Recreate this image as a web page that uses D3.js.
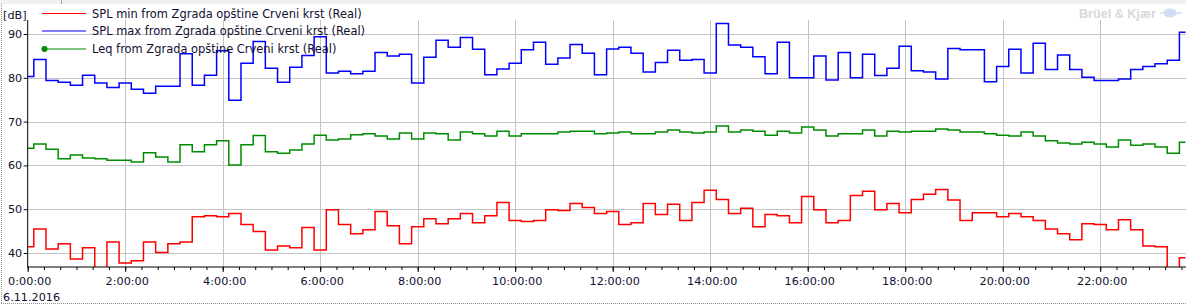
<!DOCTYPE html>
<html>
<head>
<meta charset="utf-8">
<script src="https://cdn.jsdelivr.net/npm/d3@7"></script>
<style>
  html, body { margin: 0; padding: 0; background: #ffffff; }
  svg { display: block; }
</style>
</head>
<body>
<div id="chart"></div>
<script>
// 15-minute values, 6.11.2016 from 0:00 to 23:45
const splMin = [
  41.4, 45.5, 40.9, 42.1, 38.6, 41.2, 35.5, 42.5, 37.7, 38.2,
  42.5, 40.1, 42.1, 42.5, 48.3, 48.5, 48.3, 49.0, 46.5, 44.9,
  40.7, 41.6, 41.2, 45.8, 40.7, 49.9, 46.5, 44.4, 45.3, 49.5,
  46.2, 42.1, 46.0, 47.8, 46.7, 47.8, 49.0, 46.9, 48.5, 51.5,
  47.4, 47.2, 47.4, 49.9, 49.7, 51.3, 50.4, 49.0, 49.5, 46.5,
  46.9, 51.3, 48.8, 51.1, 47.4, 51.5, 54.3, 52.2, 49.0, 50.2,
  46.0, 48.8, 48.5, 46.9, 52.9, 49.9, 46.9, 47.4, 53.1, 54.1,
  49.9, 51.3, 49.2, 52.2, 53.4, 54.5, 52.1, 47.4, 49.2, 49.2,
  48.3, 49.0, 48.3, 47.4, 45.5, 44.4, 43.0, 46.7, 46.5, 45.3,
  47.6, 45.3, 41.6, 41.4, 35.5, 38.9
];
const splMax = [
  80.3, 84.2, 79.4, 79.0, 78.3, 80.6, 78.8, 77.8, 78.8, 77.4,
  76.5, 78.1, 78.1, 85.5, 78.3, 80.6, 86.2, 74.9, 83.3, 88.3,
  82.2, 79.0, 82.4, 85.1, 89.4, 81.1, 81.5, 80.9, 81.5, 85.8,
  85.0, 85.4, 78.8, 84.7, 88.6, 87.0, 89.2, 86.5, 80.7, 82.0,
  83.3, 86.4, 88.1, 83.1, 84.5, 87.6, 85.6, 80.7, 86.6, 87.0,
  85.6, 81.3, 83.5, 86.3, 84.0, 84.2, 81.1, 92.4, 87.5, 87.0,
  84.8, 80.9, 88.1, 80.0, 80.0, 85.0, 79.5, 85.8, 80.0, 85.4,
  80.5, 82.2, 87.2, 81.6, 81.3, 79.7, 86.7, 86.4, 86.4, 79.1,
  82.6, 86.5, 81.1, 87.9, 81.9, 85.2, 81.9, 80.1, 79.4, 79.4,
  79.7, 81.9, 82.6, 83.2, 84.0, 90.4
];
const leq = [
  63.9, 64.9, 63.7, 61.5, 62.4, 61.7, 61.5, 61.2, 61.2, 60.8,
  62.9, 61.9, 60.8, 64.7, 63.1, 64.7, 65.6, 60.1, 64.7, 66.8,
  63.1, 62.8, 63.5, 64.9, 66.9, 65.8, 66.0, 67.0, 67.2, 66.7,
  66.0, 67.4, 66.0, 67.4, 67.2, 65.8, 67.6, 67.2, 66.7, 67.8,
  66.7, 67.2, 67.2, 67.2, 67.6, 67.8, 67.8, 67.2, 67.4, 67.6,
  67.2, 67.2, 67.6, 68.1, 67.6, 67.4, 67.6, 69.0, 67.6, 68.1,
  67.8, 66.9, 67.8, 67.4, 68.75, 68.1, 66.7, 67.2, 67.2, 68.1,
  66.7, 67.8, 67.6, 67.8, 67.8, 68.3, 68.1, 67.6, 67.6, 67.2,
  66.9, 66.7, 67.6, 66.7, 65.6, 65.1, 64.9, 65.3, 64.9, 64.2,
  65.8, 64.6, 64.9, 64.2, 62.8, 65.3
];
const yTicks = [40, 50, 60, 70, 80, 90];
const seriesNames = [
  "SPL min from Zgrada opštine Crveni krst (Real)",
  "SPL max from Zgrada opštine Crveni krst (Real)",
  "Leq from Zgrada opštine Crveni krst (Real)"
];
const dateLabel = "6.11.2016";

const width = 1186, height = 306;
const plot = { left: 27.7, right: 1185.5, top: 20, bottom: 267 };
const font = "DejaVu Sans, Verdana, sans-serif";
const ink = "#101030";
const day = new Date(2016, 10, 6);
const times = splMin.map((d, i) => d3.timeMinute.offset(day, i * 15));

const x = d3.scaleTime()
  .domain([day, times[times.length - 1]])
  .range([plot.left, plot.right]);
const y = d3.scaleLinear()
  .domain([36.8, 93.2])
  .range([plot.bottom, plot.top]);

const svg = d3.select("#chart").append("svg")
  .attr("width", width)
  .attr("height", height);

// pick a font size so that a sample string gets the width seen in the picture
function fitSize(sample, targetWidth, family, weight) {
  const t = svg.append("text").attr("font-family", family).attr("font-weight", weight || "normal")
    .attr("font-size", 10).text(sample);
  const w = t.node().getComputedTextLength();
  t.remove();
  return 10 * targetWidth / w;
}
const tickSize = fitSize("2:00:00", 43.3, font);
const legendSize = fitSize(seriesNames[0], 270, font);
const markSize = fitSize("Brüel & Kjær", 77, "Liberation Sans, Arial, sans-serif", "bold");

// top strip and dotted frame
svg.append("rect").attr("x", 0).attr("y", 0).attr("width", width).attr("height", 4).attr("fill", "#f0f0f0");
svg.append("line").attr("x1", 61.5).attr("x2", 61.5).attr("y1", 0).attr("y2", 4).attr("stroke", "#a0a0a0");
svg.append("line").attr("x1", 1.5).attr("x2", 1.5).attr("y1", 4).attr("y2", 303)
  .attr("stroke", "#909090").attr("stroke-dasharray", "1,1");
svg.append("line").attr("x1", 1).attr("x2", width).attr("y1", 303.5).attr("y2", 303.5)
  .attr("stroke", "#909090").attr("stroke-dasharray", "1,1");

// watermark
svg.append("text").attr("x", 1079).attr("y", 17.5)
  .attr("font-size", markSize).attr("font-weight", "bold").attr("fill", "#d9d9d9")
  .attr("font-family", "Liberation Sans, Arial, sans-serif")
  .text("Brüel & Kjær");
svg.append("ellipse").attr("cx", 1170).attr("cy", 13).attr("rx", 6.5).attr("ry", 4.5).attr("fill", "#cfdff3");
svg.append("line").attr("x1", 1160).attr("x2", 1182).attr("y1", 13).attr("y2", 13).attr("stroke", "#cfdff3").attr("stroke-width", 1.5);

// gridlines
const hourTicks = x.ticks(d3.timeHour.every(2)).filter(t => t > day);
svg.append("g").selectAll("line").data(hourTicks).join("line")
  .attr("x1", d => Math.round(x(d)) + 0.5).attr("x2", d => Math.round(x(d)) + 0.5)
  .attr("y1", plot.top).attr("y2", plot.bottom)
  .attr("stroke", "#c4c4c4");
svg.append("g").selectAll("line").data(yTicks).join("line")
  .attr("x1", plot.left).attr("x2", width)
  .attr("y1", d => Math.round(y(d)) + 0.5).attr("y2", d => Math.round(y(d)) + 0.5)
  .attr("stroke", "#c4c4c4");

// series, clipped to the plot area
svg.append("clipPath").attr("id", "plotClip").append("rect")
  .attr("x", plot.left).attr("y", plot.top)
  .attr("width", width - plot.left).attr("height", plot.bottom - plot.top);

const line = d3.line().x((d, i) => x(times[i])).y(d => y(d)).curve(d3.curveStep);
const series = [
  { values: splMin, color: "#ff0000" },
  { values: splMax, color: "#0000ff" },
  { values: leq, color: "#008c00" }
];
svg.append("g").attr("clip-path", "url(#plotClip)").selectAll("path").data(series).join("path")
  .attr("fill", "none")
  .attr("stroke", d => d.color)
  .attr("stroke-width", 1.5)
  .attr("d", d => line(d.values));

// axes
const xMinor = svg.append("g").attr("transform", `translate(0,${plot.bottom})`)
  .call(d3.axisBottom(x).ticks(d3.timeMinute.every(20)).tickSize(3).tickFormat(""));
xMinor.select(".domain").remove();
xMinor.selectAll("line").attr("stroke", "#000");

const xMajor = svg.append("g").attr("transform", `translate(0,${plot.bottom})`)
  .call(d3.axisBottom(x).ticks(d3.timeHour.every(2)).tickSize(5).tickPadding(5)
    .tickFormat(d3.timeFormat("%-H:%M:%S")));
xMajor.select(".domain").remove();
xMajor.selectAll("line").attr("stroke", "#000");
xMajor.selectAll("text").attr("font-size", tickSize).attr("fill", ink)
  .attr("font-family", font).attr("dx", 1.5);

const yAxis = svg.append("g").attr("transform", `translate(${plot.left},0)`)
  .call(d3.axisLeft(y).tickValues(yTicks).tickSize(4).tickPadding(1.5));
yAxis.select(".domain").remove();
yAxis.selectAll("line").attr("stroke", "#000");
yAxis.selectAll("text").attr("font-size", tickSize).attr("fill", ink).attr("font-family", font);

svg.append("line").attr("x1", plot.left).attr("x2", plot.left).attr("y1", plot.top).attr("y2", plot.bottom + 0.5).attr("stroke", "#000");
svg.append("line").attr("x1", plot.left).attr("x2", width).attr("y1", plot.bottom).attr("y2", plot.bottom).attr("stroke", "#000");

svg.append("text").attr("x", 3).attr("y", 19).attr("font-size", tickSize).attr("font-family", font).attr("fill", ink).text("[dB]");
svg.append("text").attr("x", 3).attr("y", 301).attr("font-size", tickSize).attr("font-family", font).attr("fill", ink).text(dateLabel);

// legend
const legend = svg.append("g").selectAll("g").data(series).join("g")
  .attr("transform", (d, i) => `translate(0,${[13.5, 31, 49][i]})`);
legend.append("line").attr("x1", 42).attr("x2", 86).attr("stroke", d => d.color).attr("stroke-width", 1.2);
legend.filter((d, i) => i === 2).append("circle").attr("cx", 44.5).attr("r", 3).attr("fill", d => d.color);
legend.append("text").attr("x", 92).attr("dy", "0.35em").attr("font-size", legendSize)
  .attr("font-family", font).attr("fill", ink)
  .text((d, i) => seriesNames[i]);
</script>
</body>
</html>
